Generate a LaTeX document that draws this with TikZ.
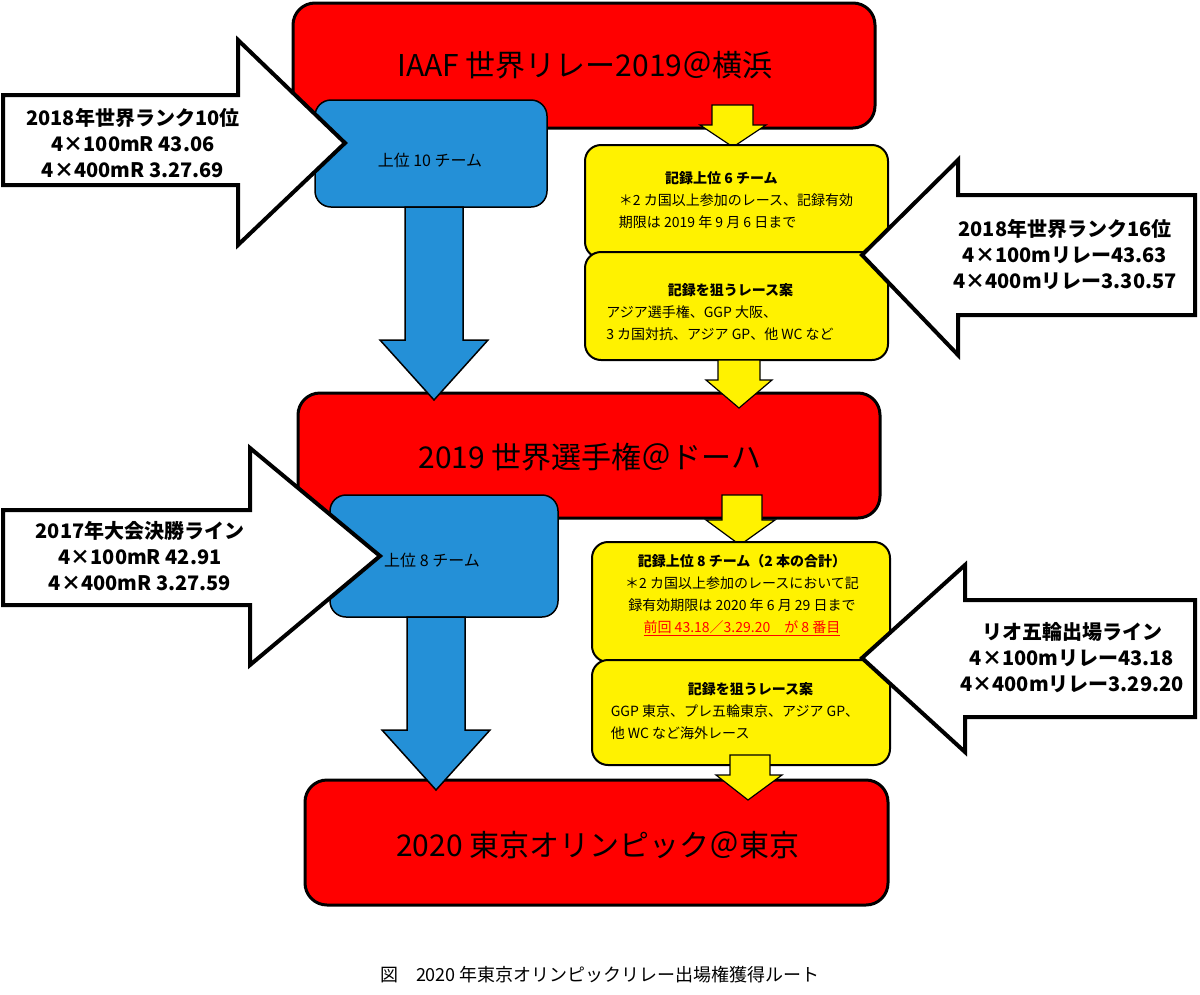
\documentclass[tikz,border=0pt]{standalone}
\usepackage{fontspec}
\setmainfont{Noto Sans CJK JP}
\begin{document}
\begin{tikzpicture}[x=1pt,y=-1pt]
        \tikzset{
            stage/.style={draw=black, line width=3pt, fill=red, rounded corners=22pt},
            team/.style={draw=black, line width=1.5pt, fill=cyan!70!blue!90, rounded corners=16pt},
            plan/.style={draw=black, line width=2pt, fill=yellow, rounded corners=16pt},
            flow/.style={draw=black, line width=1.5pt, fill=cyan!70!blue!90},
            hint/.style={draw=black, line width=1.2pt, fill=yellow},
            qline/.style={draw=black, line width=4pt, fill=white, line join=miter},
            stagetext/.style={font=\fontsize{30}{34}\selectfont},
            notetext/.style={font=\fontsize{14}{22}\selectfont, align=left},
            qtext/.style={font=\bfseries\fontsize{20}{26}\selectfont, align=center},
        }
        \useasboundingbox (0,0) rectangle (1200,994);
        % \draw (0,0) grid[step=100] (1200,994);
        % stages
        \draw[stage] (293,3) rectangle (875,128);
        \node[stagetext] (yoko) at (585,65) {IAAF 世界リレー2019＠横浜};
        \draw[stage] (298,393) rectangle (880,518);
        \node[stagetext] (doha) at (590,457) {2019 世界選手権＠ドーハ};
        \draw[stage] (305,780) rectangle (888,905);
        \node[stagetext] (toky) at (598,845) {2020 東京オリンピック＠東京};
        % left route
        \draw[team] (315,100) rectangle (547,207);
        \node[font=\fontsize{16}{20}\selectfont] (top10) at (430,160) {上位 10 チーム};
        \draw[flow] (405,207) -- (463,207) -- (463,340) -- (488,340) -- (434,400)
            -- (380,340) -- (405,340) -- cycle;
        \draw[team] (330,495) rectangle (558,617);
        \node[font=\fontsize{16}{20}\selectfont] (top8) at (432,560) {上位 8 チーム};
        \draw[flow] (407,617) -- (465,617) -- (465,730) -- (490,730) -- (436,790)
            -- (382,730) -- (407,730) -- cycle;
        % right route
        \draw[hint] (712,105) -- (753,105) -- (753,125) -- (766,125) -- (733,147)
            -- (700,125) -- (712,125) -- cycle;
        \draw[plan] (585,145) rectangle (888,258);
        \node[notetext] (recA) at (736,200) {\hspace*{3.3em}\textbf{記録上位 6 チーム}\\
            ＊2 カ国以上参加のレース、記録有効\\期限は 2019 年 9 月 6 日まで};
        \draw[plan] (585,252) rectangle (888,360);
        \node[notetext] (raceA) at (720,312) {\hspace*{4.4em}\textbf{記録を狙うレース案}\\
            アジア選手権、GGP 大阪、\\3 カ国対抗、アジア GP、他 WC など};
        \draw[hint] (718,360) -- (760,360) -- (760,380) -- (772,380) -- (739,408)
            -- (706,380) -- (718,380) -- cycle;
        \draw[hint] (722,495) -- (762,495) -- (762,520) -- (775,520) -- (740,545)
            -- (706,520) -- (722,520) -- cycle;
        \draw[plan] (592,542) rectangle (890,662);
        \node[notetext, align=center] (recB) at (742,595) {\textbf{記録上位 8 チーム（2 本の合計）}\\
            ＊2 カ国以上参加のレースにおいて記\\録有効期限は 2020 年 6 月 29 日まで\\
            \textcolor{red}{\underline{前回 43.18／3.29.20　が 8 番目}}};
        \draw[plan] (592,660) rectangle (890,765);
        \node[notetext] (raceB) at (735,711) {\hspace*{5.5em}\textbf{記録を狙うレース案}\\
            GGP 東京、プレ五輪東京、アジア GP、\\他 WC など海外レース};
        \draw[hint] (730,755) -- (770,755) -- (770,775) -- (782,775) -- (748,800)
            -- (716,775) -- (730,775) -- cycle;
        % qualifying marks
        \draw[qline] (3,95) -- (238,95) -- (238,40) -- (345,143) -- (238,245)
            -- (238,185) -- (3,185) -- cycle;
        \node[qtext] (rank10) at (133,143) {2018年世界ランク10位\\4×100mR 43.06\\4×400mR 3.27.69};
        \draw[qline] (3,510) -- (250,510) -- (250,448) -- (380,556) -- (250,665)
            -- (250,605) -- (3,605) -- cycle;
        \node[qtext] (final) at (140,556) {2017年大会決勝ライン\\4×100mR 42.91\\4×400mR 3.27.59};
        \draw[qline] (1195,195) -- (958,195) -- (958,160) -- (862,255) -- (958,355)
            -- (958,315) -- (1195,315) -- cycle;
        \node[qtext] (rank16) at (1065,255) {2018年世界ランク16位\\4×100mリレー43.63\\4×400mリレー3.30.57};
        \draw[qline] (1195,600) -- (965,600) -- (965,565) -- (862,658) -- (965,752)
            -- (965,717) -- (1195,717) -- cycle;
        \node[qtext] (rio) at (1072,658) {リオ五輪出場ライン\\4×100mリレー43.18\\4×400mリレー3.29.20};
        % caption
        \node[font=\fontsize{18}{22}\selectfont] (cap) at (600,975) {図　2020 年東京オリンピックリレー出場権獲得ルート};
    \end{tikzpicture}
\end{document}
